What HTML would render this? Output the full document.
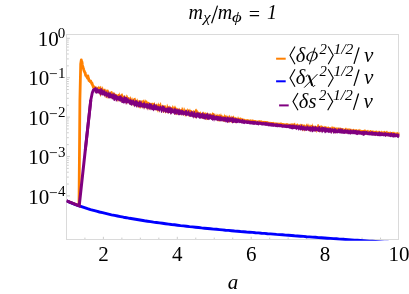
<!DOCTYPE html>
<html><head><meta charset="utf-8"><title>plot</title>
<style>
html,body{margin:0;padding:0;background:#fff;}
body{width:409px;height:294px;overflow:hidden;font-family:"Liberation Serif",serif;}
svg{display:block;will-change:transform;}
text{font-family:"Liberation Serif",serif;fill:#000;}
</style></head><body>
<svg width="409" height="294" viewBox="0 0 409 294">
<rect width="409" height="294" fill="#fff"/>
<defs><clipPath id="cp"><rect x="66.5" y="34.5" width="333.2" height="206.3"/></clipPath></defs>
<g stroke="#c0c0c0" stroke-width="0.8"><line x1="66.5" y1="38.30" x2="69.9" y2="38.30"/><line x1="66.5" y1="77.70" x2="69.9" y2="77.70"/><line x1="66.5" y1="65.84" x2="68.8" y2="65.84"/><line x1="66.5" y1="58.90" x2="68.8" y2="58.90"/><line x1="66.5" y1="53.98" x2="68.8" y2="53.98"/><line x1="66.5" y1="50.16" x2="68.8" y2="50.16"/><line x1="66.5" y1="47.04" x2="68.8" y2="47.04"/><line x1="66.5" y1="44.40" x2="68.8" y2="44.40"/><line x1="66.5" y1="42.12" x2="68.8" y2="42.12"/><line x1="66.5" y1="40.10" x2="68.8" y2="40.10"/><line x1="66.5" y1="117.10" x2="69.9" y2="117.10"/><line x1="66.5" y1="105.24" x2="68.8" y2="105.24"/><line x1="66.5" y1="98.30" x2="68.8" y2="98.30"/><line x1="66.5" y1="93.38" x2="68.8" y2="93.38"/><line x1="66.5" y1="89.56" x2="68.8" y2="89.56"/><line x1="66.5" y1="86.44" x2="68.8" y2="86.44"/><line x1="66.5" y1="83.80" x2="68.8" y2="83.80"/><line x1="66.5" y1="81.52" x2="68.8" y2="81.52"/><line x1="66.5" y1="79.50" x2="68.8" y2="79.50"/><line x1="66.5" y1="156.50" x2="69.9" y2="156.50"/><line x1="66.5" y1="144.64" x2="68.8" y2="144.64"/><line x1="66.5" y1="137.70" x2="68.8" y2="137.70"/><line x1="66.5" y1="132.78" x2="68.8" y2="132.78"/><line x1="66.5" y1="128.96" x2="68.8" y2="128.96"/><line x1="66.5" y1="125.84" x2="68.8" y2="125.84"/><line x1="66.5" y1="123.20" x2="68.8" y2="123.20"/><line x1="66.5" y1="120.92" x2="68.8" y2="120.92"/><line x1="66.5" y1="118.90" x2="68.8" y2="118.90"/><line x1="66.5" y1="195.90" x2="69.9" y2="195.90"/><line x1="66.5" y1="184.04" x2="68.8" y2="184.04"/><line x1="66.5" y1="177.10" x2="68.8" y2="177.10"/><line x1="66.5" y1="172.18" x2="68.8" y2="172.18"/><line x1="66.5" y1="168.36" x2="68.8" y2="168.36"/><line x1="66.5" y1="165.24" x2="68.8" y2="165.24"/><line x1="66.5" y1="162.60" x2="68.8" y2="162.60"/><line x1="66.5" y1="160.32" x2="68.8" y2="160.32"/><line x1="66.5" y1="158.30" x2="68.8" y2="158.30"/><line x1="84.93" y1="239.5" x2="84.93" y2="237.6"/><line x1="103.40" y1="239.5" x2="103.40" y2="236.8"/><line x1="121.88" y1="239.5" x2="121.88" y2="237.6"/><line x1="140.35" y1="239.5" x2="140.35" y2="237.6"/><line x1="158.83" y1="239.5" x2="158.83" y2="237.6"/><line x1="177.30" y1="239.5" x2="177.30" y2="236.8"/><line x1="195.78" y1="239.5" x2="195.78" y2="237.6"/><line x1="214.25" y1="239.5" x2="214.25" y2="237.6"/><line x1="232.73" y1="239.5" x2="232.73" y2="237.6"/><line x1="251.20" y1="239.5" x2="251.20" y2="236.8"/><line x1="269.68" y1="239.5" x2="269.68" y2="237.6"/><line x1="288.15" y1="239.5" x2="288.15" y2="237.6"/><line x1="306.62" y1="239.5" x2="306.62" y2="237.6"/><line x1="325.10" y1="239.5" x2="325.10" y2="236.8"/><line x1="343.58" y1="239.5" x2="343.58" y2="237.6"/><line x1="362.05" y1="239.5" x2="362.05" y2="237.6"/><line x1="380.52" y1="239.5" x2="380.52" y2="237.6"/></g>
<rect x="66.5" y="34.5" width="332.0" height="205.0" fill="none" stroke="#dadada" stroke-width="1"/>
<g clip-path="url(#cp)" fill="none" stroke-linejoin="round" stroke-linecap="butt">
<polyline points="66.5,200.8 79.0,205.6 79.4,160.0 79.9,100.0 80.7,64.0 81.3,59.9 81.7,61.9 82.0,61.9 82.3,64.4 82.6,66.3 83.0,67.0 83.4,68.7 83.7,69.7 84.1,70.9 84.5,71.8 84.9,72.8 85.2,72.8 85.6,75.4 86.0,75.3 86.4,76.1 86.8,76.9 87.1,76.3 87.5,78.3 87.9,75.9 88.2,77.5 88.6,78.6 89.0,80.7 89.4,80.7 89.8,81.1 90.2,81.6 90.6,80.9 90.9,82.0 91.3,82.3 91.7,83.7 92.0,83.1 92.4,84.8 92.8,85.3 93.3,87.0 93.7,86.6 94.2,88.1 94.6,88.7 95.1,89.0 95.6,89.6" stroke="#ff8000" stroke-width="2.8"/>
<polygon points="95.0,87.2 95.5,85.7 96.0,86.4 96.5,86.2 97.0,87.8 97.5,86.4 98.0,87.4 98.5,85.7 99.0,85.9 99.5,86.8 100.0,87.1 100.5,85.9 101.0,85.8 101.5,87.8 102.0,88.2 102.5,86.1 103.0,87.3 103.5,89.0 104.0,89.1 104.5,89.0 105.0,88.0 105.5,89.7 106.0,89.3 106.5,90.6 107.0,88.7 107.5,89.7 108.0,89.9 108.5,89.5 109.0,92.0 109.5,91.6 110.0,92.7 110.5,91.4 111.0,91.1 111.5,91.1 112.0,91.5 112.5,91.2 113.0,93.6 113.5,92.0 114.0,92.8 114.5,92.8 115.0,92.7 115.5,94.2 116.0,93.7 116.5,93.9 117.0,94.6 117.5,94.7 118.0,93.9 118.5,94.1 119.0,93.4 119.5,91.9 120.0,95.4 120.5,94.5 121.0,94.0 121.5,94.1 122.0,92.8 122.5,93.8 123.0,94.8 123.5,96.3 124.0,95.4 124.5,95.8 125.0,95.6 125.5,96.0 126.0,97.4 126.5,94.2 127.0,94.9 127.5,95.4 128.0,97.0 128.5,96.9 129.0,97.4 129.5,97.7 130.0,97.0 130.5,96.1 131.0,97.8 131.5,98.9 132.0,96.7 132.5,98.3 133.0,99.8 133.5,98.6 134.0,97.8 134.5,97.9 135.0,98.1 135.5,97.4 136.0,100.4 136.5,99.9 137.0,98.4 137.5,98.8 138.0,100.9 138.5,99.7 139.0,101.0 139.5,100.1 140.0,100.3 140.5,100.1 141.0,101.7 141.5,100.1 142.0,101.6 142.5,100.0 143.0,100.3 143.5,100.1 144.0,98.9 144.5,100.5 145.0,101.5 145.5,99.3 146.0,99.9 146.5,100.8 147.0,100.6 147.5,101.8 148.0,101.7 148.5,102.1 149.0,101.8 149.5,102.9 150.0,102.2 150.5,103.6 151.0,102.6 151.5,103.5 152.0,102.4 152.5,102.8 153.0,103.0 153.5,103.2 154.0,102.6 154.5,102.0 155.0,103.7 155.5,104.5 156.0,104.3 156.5,103.9 157.0,102.7 157.5,104.9 158.0,103.9 158.5,102.0 159.0,104.4 159.5,104.2 160.0,103.6 160.5,102.3 161.0,102.5 161.5,105.9 162.0,104.5 162.5,105.5 163.0,104.8 163.5,105.3 164.0,105.9 164.5,104.7 165.0,105.7 165.5,104.7 166.0,106.6 166.5,107.0 167.0,103.5 167.5,104.4 168.0,106.1 168.5,106.1 169.0,106.9 169.5,104.9 170.0,107.0 170.5,106.6 171.0,106.8 171.5,107.2 172.0,107.3 172.5,104.9 173.0,105.8 173.5,107.8 174.0,105.2 174.5,107.3 175.0,105.3 175.5,106.6 176.0,107.3 176.5,107.7 177.0,108.6 177.5,108.4 178.0,107.4 178.5,109.3 179.0,109.0 179.5,107.4 180.0,109.2 180.5,109.4 181.0,109.2 181.5,108.8 182.0,106.6 182.5,108.6 183.0,106.9 183.5,109.0 184.0,110.0 184.5,107.0 185.0,108.8 185.5,110.4 186.0,109.6 186.5,109.2 187.0,110.2 187.5,107.8 188.0,109.2 188.5,109.4 189.0,109.6 189.5,109.7 190.0,108.2 190.5,110.0 191.0,110.0 191.5,110.0 192.0,110.9 192.5,111.4 193.0,109.8 193.5,110.3 194.0,110.9 194.5,110.9 195.0,110.2 195.5,108.7 196.0,109.1 196.5,108.6 197.0,110.4 197.5,109.5 198.0,111.9 198.5,111.0 199.0,112.2 199.5,112.2 200.0,112.3 200.5,111.1 201.0,112.5 201.5,113.1 202.0,112.7 202.5,112.4 203.0,112.7 203.5,111.4 204.0,112.0 204.5,113.4 205.0,111.9 205.5,112.5 206.0,112.9 206.5,113.6 207.0,112.1 207.5,112.9 208.0,112.8 208.5,113.7 209.0,113.4 209.5,114.0 210.0,114.2 210.5,113.0 211.0,113.2 211.5,114.3 212.0,113.3 212.5,112.0 213.0,112.8 213.5,113.0 214.0,113.2 214.5,113.6 215.0,114.9 215.5,114.8 216.0,112.9 216.5,114.8 217.0,115.3 217.5,114.3 218.0,113.6 218.5,115.5 219.0,114.2 219.5,113.7 220.0,115.6 220.5,114.2 221.0,113.0 221.5,115.3 222.0,114.4 222.5,115.7 223.0,115.7 223.5,116.3 224.0,115.3 224.5,113.5 225.0,115.7 225.5,115.0 226.0,115.6 226.5,116.1 227.0,114.2 227.5,116.8 228.0,115.9 228.5,117.1 229.0,114.5 229.5,115.6 230.0,115.4 230.5,116.9 231.0,116.8 231.5,115.3 232.0,117.5 232.5,116.1 233.0,116.5 233.5,115.2 234.0,116.3 234.5,117.3 235.0,117.4 235.5,116.9 236.0,116.8 236.5,117.7 237.0,118.0 237.5,117.7 238.0,116.0 238.5,117.3 239.0,118.2 239.5,117.6 240.0,117.9 240.5,117.2 241.0,117.5 241.5,118.4 242.0,117.8 242.5,118.2 243.0,118.7 243.5,118.8 244.0,118.3 244.5,118.9 245.0,119.1 245.5,119.3 246.0,119.5 246.5,119.2 247.0,119.1 247.5,119.0 248.0,119.6 248.5,119.3 249.0,119.6 249.5,119.6 250.0,120.0 250.5,118.9 251.0,119.6 251.5,119.5 252.0,120.0 252.5,119.0 253.0,120.0 253.5,119.6 254.0,120.1 254.5,120.1 255.0,120.2 255.5,120.0 256.0,120.2 256.5,120.4 257.0,120.4 257.5,120.7 258.0,120.2 258.5,120.6 259.0,120.3 259.5,120.3 260.0,120.3 260.5,120.5 261.0,120.4 261.5,120.3 262.0,120.7 262.5,120.9 263.0,120.8 263.5,121.2 264.0,120.8 264.5,120.9 265.0,120.9 265.5,121.0 266.0,121.1 266.5,121.3 267.0,121.1 267.5,121.2 268.0,121.2 268.5,121.8 269.0,121.7 269.5,121.7 270.0,122.0 270.5,121.8 271.0,121.9 271.5,122.1 272.0,122.0 272.5,122.0 273.0,122.1 273.5,121.7 274.0,122.5 274.5,122.4 275.0,122.2 275.5,122.4 276.0,122.5 276.5,122.6 277.0,122.5 277.5,122.7 278.0,122.5 278.5,122.7 279.0,122.7 279.5,122.8 280.0,122.8 280.5,122.6 281.0,122.6 281.5,122.6 282.0,123.0 282.5,123.0 283.0,123.0 283.5,123.2 284.0,122.9 284.5,123.6 285.0,123.4 285.5,123.5 286.0,123.2 286.5,122.9 287.0,123.6 287.5,123.1 288.0,123.6 288.5,123.8 289.0,123.4 289.5,123.9 290.0,123.4 290.5,123.7 291.0,123.5 291.5,123.0 292.0,124.2 292.5,123.3 293.0,123.1 293.5,124.0 294.0,123.1 294.5,123.3 295.0,122.3 295.5,124.5 296.0,124.3 296.5,124.5 297.0,123.2 297.5,123.4 298.0,124.1 298.5,124.6 299.0,124.7 299.5,124.3 300.0,124.7 300.5,123.7 301.0,123.7 301.5,124.0 302.0,124.9 302.5,123.7 303.0,124.6 303.5,125.1 304.0,124.0 304.5,124.5 305.0,125.3 305.5,125.6 306.0,124.6 306.5,124.3 307.0,122.9 307.5,125.5 308.0,122.9 308.5,124.5 309.0,125.4 309.5,125.6 310.0,123.7 310.5,125.8 311.0,124.8 311.5,125.0 312.0,124.7 312.5,123.1 313.0,125.9 313.5,125.2 314.0,125.9 314.5,125.9 315.0,125.0 315.5,126.1 316.0,126.3 316.5,126.3 317.0,125.9 317.5,124.6 318.0,123.9 318.5,124.1 319.0,125.8 319.5,125.7 320.0,125.8 320.5,125.4 321.0,125.8 321.5,125.3 322.0,125.6 322.5,125.9 323.0,126.5 323.5,127.1 324.0,125.5 324.5,126.6 325.0,126.3 325.5,126.4 326.0,126.1 326.5,127.2 327.0,126.2 327.5,127.1 328.0,127.1 328.5,126.2 329.0,126.7 329.5,127.6 330.0,127.3 330.5,127.2 331.0,127.8 331.5,127.0 332.0,125.5 332.5,127.1 333.0,126.5 333.5,126.8 334.0,127.5 334.5,127.0 335.0,126.4 335.5,127.8 336.0,127.9 336.5,126.9 337.0,128.0 337.5,127.7 338.0,126.8 338.5,127.6 339.0,128.5 339.5,127.5 340.0,127.3 340.5,127.4 341.0,128.3 341.5,127.8 342.0,128.3 342.5,128.2 343.0,127.9 343.5,128.2 344.0,128.9 344.5,128.7 345.0,128.2 345.5,127.9 346.0,127.2 346.5,128.5 347.0,128.4 347.5,128.8 348.0,128.0 348.5,129.1 349.0,128.0 349.5,128.7 350.0,128.4 350.5,128.9 351.0,128.2 351.5,129.4 352.0,129.0 352.5,129.2 353.0,129.6 353.5,128.7 354.0,128.7 354.5,129.6 355.0,129.6 355.5,129.3 356.0,129.2 356.5,129.1 357.0,129.6 357.5,129.7 358.0,129.7 358.5,129.1 359.0,130.1 359.5,128.4 360.0,130.1 360.5,129.2 361.0,129.7 361.5,129.9 362.0,129.9 362.5,130.1 363.0,130.1 363.5,130.1 364.0,129.8 364.5,129.6 365.0,129.6 365.5,129.4 366.0,130.4 366.5,130.4 367.0,130.1 367.5,130.3 368.0,129.4 368.5,130.6 369.0,130.6 369.5,130.8 370.0,130.2 370.5,130.1 371.0,130.1 371.5,130.4 372.0,130.9 372.5,130.6 373.0,129.9 373.5,130.9 374.0,130.5 374.5,131.0 375.0,131.0 375.5,131.2 376.0,130.1 376.5,131.1 377.0,130.5 377.5,131.2 378.0,131.6 378.5,131.3 379.0,130.2 379.5,131.2 380.0,130.9 380.5,131.4 381.0,131.6 381.5,130.3 382.0,131.7 382.5,131.6 383.0,130.8 383.5,131.7 384.0,130.9 384.5,130.8 385.0,130.9 385.5,131.8 386.0,131.6 386.5,131.0 387.0,130.4 387.5,131.3 388.0,132.2 388.5,131.7 389.0,131.8 389.5,132.0 390.0,131.5 390.5,131.6 391.0,132.3 391.5,132.5 392.0,132.0 392.5,132.1 393.0,131.5 393.5,132.3 394.0,131.5 394.5,132.3 395.0,132.6 395.5,132.6 396.0,132.4 396.5,132.8 397.0,131.4 397.5,132.5 398.0,132.1 398.5,132.9 399.0,132.5 399.5,132.0 399.5,136.3 399.0,136.2 398.5,136.5 398.0,136.0 397.5,136.9 397.0,136.0 396.5,136.9 396.0,136.5 395.5,136.6 395.0,137.4 394.5,135.8 394.0,136.3 393.5,136.1 393.0,136.2 392.5,136.4 392.0,136.2 391.5,135.9 391.0,136.4 390.5,135.9 390.0,136.1 389.5,135.4 389.0,136.5 388.5,135.7 388.0,135.8 387.5,136.3 387.0,135.8 386.5,136.4 386.0,135.6 385.5,136.0 385.0,135.4 384.5,135.9 384.0,135.2 383.5,135.2 383.0,135.5 382.5,135.4 382.0,135.1 381.5,135.6 381.0,135.9 380.5,135.2 380.0,134.7 379.5,134.7 379.0,134.7 378.5,136.1 378.0,135.1 377.5,136.0 377.0,135.0 376.5,135.2 376.0,134.5 375.5,134.6 375.0,135.8 374.5,135.5 374.0,135.2 373.5,134.6 373.0,134.5 372.5,134.2 372.0,134.8 371.5,134.7 371.0,135.0 370.5,134.7 370.0,134.5 369.5,134.3 369.0,134.6 368.5,134.7 368.0,134.6 367.5,134.1 367.0,135.5 366.5,134.3 366.0,134.9 365.5,133.9 365.0,134.9 364.5,134.3 364.0,134.5 363.5,135.0 363.0,134.0 362.5,134.0 362.0,133.9 361.5,135.0 361.0,133.8 360.5,133.3 360.0,134.0 359.5,134.1 359.0,134.1 358.5,134.2 358.0,133.6 357.5,133.9 357.0,134.2 356.5,133.1 356.0,133.3 355.5,134.1 355.0,133.4 354.5,133.4 354.0,133.6 353.5,134.3 353.0,133.1 352.5,133.8 352.0,133.1 351.5,133.7 351.0,132.8 350.5,133.1 350.0,133.6 349.5,133.9 349.0,132.4 348.5,133.6 348.0,132.5 347.5,133.1 347.0,132.4 346.5,134.1 346.0,133.2 345.5,133.1 345.0,133.0 344.5,132.6 344.0,132.4 343.5,133.8 343.0,132.9 342.5,132.3 342.0,133.3 341.5,132.3 341.0,133.1 340.5,132.2 340.0,133.6 339.5,132.3 339.0,132.2 338.5,133.1 338.0,131.7 337.5,132.6 337.0,132.4 336.5,132.7 336.0,131.4 335.5,134.2 335.0,132.1 334.5,131.6 334.0,132.6 333.5,132.4 333.0,131.4 332.5,132.5 332.0,132.0 331.5,133.4 331.0,131.4 330.5,131.5 330.0,131.7 329.5,131.3 329.0,130.8 328.5,131.3 328.0,131.1 327.5,131.0 327.0,132.0 326.5,131.7 326.0,132.1 325.5,131.7 325.0,130.9 324.5,131.7 324.0,132.2 323.5,130.8 323.0,130.7 322.5,130.7 322.0,130.7 321.5,131.9 321.0,131.0 320.5,132.3 320.0,130.6 319.5,132.4 319.0,132.6 318.5,130.2 318.0,130.7 317.5,131.6 317.0,129.9 316.5,133.0 316.0,132.4 315.5,130.5 315.0,130.6 314.5,131.7 314.0,130.3 313.5,131.2 313.0,130.5 312.5,129.6 312.0,130.5 311.5,129.8 311.0,131.7 310.5,130.7 310.0,130.8 309.5,131.7 309.0,130.5 308.5,131.5 308.0,130.1 307.5,129.8 307.0,130.2 306.5,129.2 306.0,129.3 305.5,129.3 305.0,131.7 304.5,131.3 304.0,129.8 303.5,129.5 303.0,131.4 302.5,131.0 302.0,130.2 301.5,129.7 301.0,129.6 300.5,129.2 300.0,128.5 299.5,128.9 299.0,129.0 298.5,128.9 298.0,129.0 297.5,129.1 297.0,128.7 296.5,128.7 296.0,128.3 295.5,128.7 295.0,128.7 294.5,129.0 294.0,128.8 293.5,129.0 293.0,127.5 292.5,128.2 292.0,129.5 291.5,128.0 291.0,127.7 290.5,127.8 290.0,127.5 289.5,127.8 289.0,128.0 288.5,127.3 288.0,128.1 287.5,127.5 287.0,127.1 286.5,127.1 286.0,126.9 285.5,126.9 285.0,126.7 284.5,126.9 284.0,126.8 283.5,126.6 283.0,126.7 282.5,126.4 282.0,126.7 281.5,126.4 281.0,126.1 280.5,126.3 280.0,126.8 279.5,126.2 279.0,126.1 278.5,126.3 278.0,126.3 277.5,126.2 277.0,126.4 276.5,126.5 276.0,126.3 275.5,126.2 275.0,126.1 274.5,125.8 274.0,125.7 273.5,125.5 273.0,125.5 272.5,125.5 272.0,125.6 271.5,125.5 271.0,125.4 270.5,125.3 270.0,125.3 269.5,125.1 269.0,125.2 268.5,125.8 268.0,125.2 267.5,125.3 267.0,124.6 266.5,124.9 266.0,125.1 265.5,124.5 265.0,124.4 264.5,124.6 264.0,125.0 263.5,124.6 263.0,124.4 262.5,124.7 262.0,124.4 261.5,124.5 261.0,124.4 260.5,123.9 260.0,123.9 259.5,124.4 259.0,124.0 258.5,124.0 258.0,124.3 257.5,124.3 257.0,123.8 256.5,123.7 256.0,124.2 255.5,123.4 255.0,124.1 254.5,124.5 254.0,123.6 253.5,123.2 253.0,123.5 252.5,123.2 252.0,123.4 251.5,123.8 251.0,123.8 250.5,123.2 250.0,124.0 249.5,123.4 249.0,123.3 248.5,122.9 248.0,123.6 247.5,122.6 247.0,123.4 246.5,122.6 246.0,123.0 245.5,123.0 245.0,122.8 244.5,122.9 244.0,122.8 243.5,122.5 243.0,123.1 242.5,122.4 242.0,121.8 241.5,121.9 241.0,123.2 240.5,122.2 240.0,122.9 239.5,122.4 239.0,122.1 238.5,121.6 238.0,122.0 237.5,121.7 237.0,122.4 236.5,121.5 236.0,123.7 235.5,122.9 235.0,121.7 234.5,122.7 234.0,121.9 233.5,122.2 233.0,123.0 232.5,121.5 232.0,122.2 231.5,122.9 231.0,122.2 230.5,121.7 230.0,121.7 229.5,120.9 229.0,122.0 228.5,123.3 228.0,122.1 227.5,120.6 227.0,122.0 226.5,121.1 226.0,120.6 225.5,121.0 225.0,121.6 224.5,122.2 224.0,121.7 223.5,121.6 223.0,121.0 222.5,121.6 222.0,119.6 221.5,120.9 221.0,121.2 220.5,119.9 220.0,120.3 219.5,121.8 219.0,121.7 218.5,120.5 218.0,122.0 217.5,120.8 217.0,120.6 216.5,119.1 216.0,120.2 215.5,119.6 215.0,120.3 214.5,119.8 214.0,118.5 213.5,119.8 213.0,119.3 212.5,119.2 212.0,118.6 211.5,120.2 211.0,118.7 210.5,118.2 210.0,118.1 209.5,118.7 209.0,118.8 208.5,120.6 208.0,118.5 207.5,119.0 207.0,120.3 206.5,120.0 206.0,118.9 205.5,117.5 205.0,120.5 204.5,117.9 204.0,118.4 203.5,118.8 203.0,118.8 202.5,119.0 202.0,118.6 201.5,117.9 201.0,118.1 200.5,116.7 200.0,117.3 199.5,116.4 199.0,117.7 198.5,117.3 198.0,116.2 197.5,117.1 197.0,116.4 196.5,115.8 196.0,117.4 195.5,118.5 195.0,118.3 194.5,117.0 194.0,116.8 193.5,117.5 193.0,116.6 192.5,115.4 192.0,115.2 191.5,117.2 191.0,115.3 190.5,116.9 190.0,115.4 189.5,115.1 189.0,117.4 188.5,116.1 188.0,114.6 187.5,115.3 187.0,114.9 186.5,114.6 186.0,116.4 185.5,115.4 185.0,117.4 184.5,113.7 184.0,115.2 183.5,115.7 183.0,114.4 182.5,115.1 182.0,113.6 181.5,115.1 181.0,116.0 180.5,113.8 180.0,114.1 179.5,113.8 179.0,114.6 178.5,114.4 178.0,113.5 177.5,113.6 177.0,115.6 176.5,114.4 176.0,115.0 175.5,113.1 175.0,115.0 174.5,114.3 174.0,112.8 173.5,113.0 173.0,112.1 172.5,112.1 172.0,111.7 171.5,113.9 171.0,113.5 170.5,113.3 170.0,111.6 169.5,112.6 169.0,113.4 168.5,112.1 168.0,114.3 167.5,112.5 167.0,113.0 166.5,111.5 166.0,112.4 165.5,113.9 165.0,112.6 164.5,110.5 164.0,112.8 163.5,112.9 163.0,112.7 162.5,110.9 162.0,110.2 161.5,111.5 161.0,110.2 160.5,109.8 160.0,110.7 159.5,111.6 159.0,113.1 158.5,109.6 158.0,112.8 157.5,111.8 157.0,109.7 156.5,111.2 156.0,110.0 155.5,108.8 155.0,109.8 154.5,109.8 154.0,110.8 153.5,109.2 153.0,109.2 152.5,108.4 152.0,109.7 151.5,107.7 151.0,110.0 150.5,109.6 150.0,108.1 149.5,107.9 149.0,110.7 148.5,109.1 148.0,108.0 147.5,109.1 147.0,107.7 146.5,109.9 146.0,107.2 145.5,106.5 145.0,109.6 144.5,107.9 144.0,108.0 143.5,106.3 143.0,109.5 142.5,107.2 142.0,107.7 141.5,106.9 141.0,107.7 140.5,108.9 140.0,106.5 139.5,108.5 139.0,107.9 138.5,105.4 138.0,106.1 137.5,108.0 137.0,105.9 136.5,105.4 136.0,105.7 135.5,105.4 135.0,105.7 134.5,104.3 134.0,104.8 133.5,107.0 133.0,103.6 132.5,105.6 132.0,104.3 131.5,104.1 131.0,106.0 130.5,103.1 130.0,104.4 129.5,103.8 129.0,102.3 128.5,102.5 128.0,103.7 127.5,103.1 127.0,102.8 126.5,104.8 126.0,103.4 125.5,101.6 125.0,102.2 124.5,102.5 124.0,101.6 123.5,102.3 123.0,101.7 122.5,100.4 122.0,101.4 121.5,100.6 121.0,101.3 120.5,102.4 120.0,99.8 119.5,100.4 119.0,99.7 118.5,100.6 118.0,102.5 117.5,100.9 117.0,99.4 116.5,98.7 116.0,100.2 115.5,98.7 115.0,98.4 114.5,101.2 114.0,99.4 113.5,98.6 113.0,99.0 112.5,97.3 112.0,99.9 111.5,97.9 111.0,97.6 110.5,97.4 110.0,97.5 109.5,98.5 109.0,96.4 108.5,97.8 108.0,99.3 107.5,97.3 107.0,97.2 106.5,98.6 106.0,97.5 105.5,95.4 105.0,98.3 104.5,94.9 104.0,96.1 103.5,95.0 103.0,94.5 102.5,95.4 102.0,94.2 101.5,94.6 101.0,95.2 100.5,96.9 100.0,96.1 99.5,93.8 99.0,92.6 98.5,93.7 98.0,92.1 97.5,93.3 97.0,92.9 96.5,92.4 96.0,91.6 95.5,93.6 95.0,92.0" fill="#ff8000" stroke="none"/>
<polyline points="66.5,200.7 69.5,202.1 72.5,203.4 75.5,204.6 78.5,205.7 81.5,206.7 84.5,207.7 87.5,208.7 90.5,209.6 93.5,210.4 96.5,211.2 99.5,212.0 102.5,212.7 105.5,213.4 108.5,214.1 111.5,214.8 114.5,215.4 117.5,216.0 120.5,216.6 123.5,217.2 126.5,217.7 129.5,218.3 132.5,218.8 135.5,219.3 138.5,219.8 141.5,220.3 144.5,220.8 147.5,221.2 150.5,221.6 153.5,222.1 156.5,222.5 159.5,222.9 162.5,223.3 165.5,223.7 168.5,224.1 171.5,224.5 174.5,224.8 177.5,225.2 180.5,225.6 183.5,225.9 186.5,226.2 189.5,226.6 192.5,226.9 195.5,227.2 198.5,227.5 201.5,227.9 204.5,228.2 207.5,228.5 210.5,228.8 213.5,229.1 216.5,229.3 219.5,229.6 222.5,229.9 225.5,230.2 228.5,230.4 231.5,230.7 234.5,231.0 237.5,231.2 240.5,231.5 243.5,231.7 246.5,232.0 249.5,232.2 252.5,232.4 255.5,232.7 258.5,232.9 261.5,233.2 264.5,233.4 267.5,233.7 270.5,233.9 273.5,234.1 276.5,234.4 279.5,234.6 282.5,234.8 285.5,235.1 288.5,235.3 291.5,235.5 294.5,235.8 297.5,236.0 300.5,236.2 303.5,236.4 306.5,236.7 309.5,236.9 312.5,237.1 315.5,237.3 318.5,237.6 321.5,237.8 324.5,238.0 327.5,238.2 330.5,238.4 333.5,238.6 336.5,238.8 339.5,239.1 342.5,239.3 345.5,239.5 348.5,239.7 351.5,239.9 354.5,240.1 357.5,240.3 360.5,240.5 363.5,240.7 366.5,240.9 369.5,241.1 372.5,241.3 375.5,241.5 378.5,241.7 381.5,241.9 384.5,242.1 387.5,242.3 390.5,242.5 393.5,242.7 396.5,242.9 399.5,243.1" stroke="#0000ff" stroke-width="2.9"/>
<polyline points="66.5,200.8 79.2,205.8 85.3,150.0 90.8,100.0" stroke="#800080" stroke-width="3.0" stroke-linejoin="miter" stroke-miterlimit="6"/>
<polyline points="85.3,150.0 90.8,100.0 92.3,92.8 93.5,89.8 94.6,89.6" stroke="#800080" stroke-width="2.9"/>
<polygon points="94.0,87.3 94.5,87.7 95.0,87.7 95.5,86.8 96.0,86.9 96.5,88.6 97.0,87.0 97.5,88.0 98.0,89.0 98.5,89.1 99.0,89.6 99.5,89.0 100.0,89.1 100.5,87.6 101.0,90.1 101.5,87.8 102.0,88.5 102.5,89.7 103.0,89.5 103.5,90.4 104.0,90.6 104.5,89.0 105.0,91.4 105.5,91.8 106.0,90.3 106.5,92.3 107.0,91.1 107.5,92.5 108.0,92.9 108.5,92.1 109.0,90.6 109.5,93.2 110.0,92.6 110.5,91.9 111.0,93.6 111.5,93.9 112.0,93.0 112.5,94.6 113.0,92.1 113.5,94.5 114.0,92.0 114.5,94.3 115.0,94.5 115.5,94.3 116.0,94.5 116.5,94.9 117.0,95.3 117.5,95.9 118.0,95.4 118.5,96.4 119.0,95.8 119.5,95.6 120.0,95.9 120.5,95.6 121.0,95.0 121.5,95.9 122.0,97.3 122.5,97.2 123.0,96.9 123.5,98.0 124.0,95.2 124.5,95.4 125.0,97.3 125.5,96.9 126.0,97.0 126.5,97.3 127.0,97.0 127.5,98.7 128.0,97.2 128.5,98.2 129.0,99.8 129.5,99.5 130.0,98.7 130.5,98.4 131.0,100.1 131.5,100.0 132.0,98.9 132.5,100.5 133.0,100.0 133.5,99.1 134.0,100.3 134.5,100.8 135.0,101.4 135.5,99.3 136.0,100.4 136.5,100.0 137.0,100.8 137.5,100.4 138.0,102.1 138.5,102.0 139.0,101.5 139.5,100.6 140.0,100.6 140.5,102.3 141.0,99.7 141.5,101.5 142.0,103.0 142.5,103.2 143.0,103.1 143.5,102.7 144.0,100.9 144.5,102.3 145.0,103.1 145.5,103.6 146.0,103.5 146.5,102.9 147.0,103.6 147.5,103.1 148.0,103.5 148.5,104.4 149.0,102.7 149.5,103.1 150.0,102.7 150.5,103.9 151.0,103.0 151.5,103.8 152.0,104.5 152.5,105.1 153.0,105.6 153.5,104.2 154.0,104.2 154.5,103.1 155.0,104.0 155.5,105.7 156.0,103.9 156.5,104.8 157.0,105.4 157.5,105.8 158.0,106.4 158.5,105.2 159.0,106.5 159.5,106.5 160.0,105.8 160.5,105.2 161.0,105.9 161.5,106.8 162.0,106.6 162.5,104.5 163.0,106.3 163.5,105.4 164.0,106.1 164.5,106.4 165.0,107.1 165.5,107.8 166.0,108.2 166.5,107.7 167.0,108.1 167.5,107.5 168.0,106.0 168.5,108.0 169.0,106.2 169.5,107.9 170.0,106.3 170.5,106.9 171.0,108.5 171.5,107.6 172.0,107.9 172.5,108.7 173.0,107.8 173.5,109.4 174.0,109.2 174.5,107.6 175.0,108.2 175.5,108.0 176.0,109.2 176.5,109.2 177.0,108.7 177.5,108.8 178.0,110.0 178.5,109.1 179.0,108.2 179.5,110.1 180.0,108.9 180.5,110.6 181.0,109.1 181.5,110.6 182.0,109.8 182.5,109.9 183.0,110.2 183.5,111.1 184.0,110.2 184.5,111.0 185.0,111.4 185.5,109.5 186.0,110.1 186.5,110.1 187.0,110.4 187.5,111.8 188.0,111.1 188.5,110.3 189.0,109.8 189.5,111.8 190.0,112.4 190.5,112.2 191.0,110.2 191.5,111.5 192.0,110.9 192.5,111.0 193.0,112.6 193.5,112.6 194.0,110.6 194.5,110.7 195.0,112.5 195.5,113.4 196.0,110.9 196.5,112.7 197.0,113.3 197.5,112.0 198.0,111.8 198.5,112.8 199.0,113.1 199.5,112.4 200.0,112.7 200.5,113.7 201.0,113.2 201.5,113.0 202.0,113.8 202.5,111.5 203.0,113.1 203.5,113.3 204.0,114.6 204.5,112.9 205.0,113.5 205.5,114.6 206.0,113.7 206.5,113.6 207.0,113.8 207.5,112.5 208.0,113.2 208.5,114.3 209.0,115.1 209.5,112.8 210.0,115.0 210.5,113.6 211.0,115.0 211.5,114.6 212.0,115.4 212.5,115.0 213.0,114.3 213.5,115.6 214.0,113.3 214.5,115.4 215.0,115.9 215.5,116.2 216.0,115.5 216.5,115.3 217.0,116.0 217.5,115.7 218.0,116.2 218.5,115.9 219.0,115.9 219.5,115.8 220.0,117.2 220.5,115.2 221.0,116.2 221.5,117.1 222.0,115.7 222.5,117.2 223.0,116.9 223.5,117.2 224.0,116.3 224.5,117.3 225.0,116.7 225.5,116.4 226.0,117.4 226.5,117.4 227.0,117.1 227.5,116.7 228.0,115.9 228.5,117.7 229.0,116.8 229.5,117.3 230.0,118.2 230.5,117.2 231.0,116.6 231.5,117.8 232.0,117.8 232.5,116.8 233.0,117.6 233.5,116.9 234.0,118.5 234.5,118.2 235.0,117.9 235.5,117.9 236.0,118.6 236.5,118.1 237.0,118.7 237.5,118.5 238.0,118.8 238.5,118.3 239.0,119.1 239.5,119.3 240.0,119.0 240.5,119.3 241.0,119.7 241.5,119.7 242.0,119.0 242.5,119.0 243.0,119.1 243.5,120.1 244.0,120.2 244.5,119.6 245.0,120.2 245.5,120.3 246.0,120.3 246.5,120.3 247.0,120.3 247.5,120.5 248.0,120.3 248.5,120.6 249.0,120.2 249.5,120.7 250.0,120.5 250.5,120.7 251.0,120.9 251.5,121.0 252.0,120.8 252.5,120.7 253.0,121.1 253.5,121.1 254.0,120.8 254.5,121.1 255.0,121.3 255.5,120.8 256.0,121.5 256.5,121.5 257.0,121.3 257.5,121.1 258.0,121.3 258.5,121.6 259.0,121.8 259.5,121.6 260.0,121.2 260.5,121.8 261.0,121.7 261.5,122.0 262.0,121.7 262.5,122.2 263.0,122.0 263.5,121.6 264.0,122.4 264.5,122.1 265.0,122.2 265.5,121.8 266.0,122.2 266.5,122.1 267.0,122.3 267.5,122.5 268.0,122.3 268.5,122.5 269.0,122.6 269.5,122.8 270.0,122.4 270.5,122.7 271.0,123.2 271.5,122.6 272.0,122.8 272.5,123.1 273.0,122.9 273.5,122.7 274.0,123.5 274.5,123.2 275.0,123.6 275.5,123.6 276.0,123.2 276.5,123.4 277.0,123.1 277.5,123.6 278.0,123.5 278.5,123.9 279.0,123.8 279.5,124.1 280.0,123.5 280.5,124.0 281.0,124.0 281.5,124.1 282.0,124.0 282.5,124.4 283.0,124.5 283.5,124.4 284.0,124.2 284.5,124.3 285.0,124.4 285.5,124.6 286.0,124.2 286.5,124.6 287.0,124.6 287.5,124.5 288.0,124.8 288.5,124.4 289.0,124.4 289.5,124.3 290.0,124.8 290.5,124.6 291.0,124.4 291.5,124.7 292.0,124.9 292.5,124.2 293.0,125.3 293.5,124.8 294.0,124.3 294.5,124.4 295.0,125.4 295.5,125.1 296.0,125.4 296.5,124.5 297.0,125.0 297.5,125.6 298.0,125.6 298.5,125.6 299.0,124.9 299.5,124.7 300.0,125.9 300.5,126.0 301.0,125.0 301.5,124.0 302.0,125.4 302.5,126.1 303.0,126.2 303.5,125.9 304.0,125.1 304.5,126.5 305.0,126.4 305.5,126.2 306.0,126.7 306.5,126.4 307.0,124.6 307.5,125.9 308.0,126.2 308.5,126.3 309.0,127.0 309.5,126.6 310.0,125.8 310.5,126.4 311.0,126.6 311.5,127.0 312.0,126.5 312.5,125.3 313.0,126.1 313.5,126.3 314.0,127.2 314.5,126.6 315.0,126.4 315.5,125.4 316.0,126.4 316.5,126.9 317.0,126.6 317.5,127.1 318.0,127.8 318.5,125.9 319.0,126.5 319.5,125.8 320.0,126.6 320.5,128.0 321.0,127.2 321.5,126.7 322.0,127.8 322.5,126.5 323.0,127.1 323.5,127.1 324.0,127.2 324.5,127.4 325.0,126.9 325.5,127.7 326.0,126.3 326.5,128.1 327.0,127.9 327.5,128.0 328.0,128.3 328.5,127.8 329.0,128.7 329.5,127.7 330.0,127.4 330.5,127.8 331.0,128.2 331.5,128.8 332.0,128.2 332.5,128.2 333.0,128.3 333.5,129.0 334.0,128.8 334.5,127.7 335.0,128.7 335.5,128.3 336.0,128.3 336.5,129.3 337.0,129.4 337.5,129.4 338.0,128.8 338.5,127.8 339.0,129.3 339.5,128.4 340.0,128.6 340.5,127.9 341.0,129.6 341.5,128.5 342.0,128.2 342.5,128.5 343.0,129.6 343.5,130.1 344.0,129.4 344.5,129.2 345.0,129.4 345.5,128.8 346.0,129.7 346.5,129.9 347.0,129.2 347.5,129.8 348.0,128.9 348.5,130.0 349.0,130.2 349.5,130.2 350.0,129.2 350.5,129.5 351.0,129.7 351.5,129.7 352.0,130.4 352.5,130.1 353.0,129.6 353.5,129.8 354.0,129.8 354.5,130.2 355.0,130.1 355.5,130.1 356.0,130.0 356.5,130.0 357.0,130.7 357.5,129.7 358.0,130.9 358.5,130.3 359.0,129.7 359.5,130.5 360.0,131.0 360.5,130.9 361.0,131.3 361.5,131.3 362.0,130.9 362.5,131.1 363.0,131.3 363.5,130.9 364.0,130.5 364.5,131.2 365.0,130.8 365.5,131.4 366.0,130.5 366.5,131.0 367.0,131.1 367.5,131.4 368.0,131.5 368.5,131.7 369.0,131.4 369.5,131.6 370.0,130.7 370.5,132.0 371.0,131.8 371.5,131.3 372.0,130.9 372.5,131.5 373.0,131.6 373.5,132.0 374.0,132.1 374.5,131.9 375.0,131.9 375.5,131.6 376.0,131.7 376.5,132.1 377.0,132.2 377.5,132.2 378.0,132.5 378.5,132.1 379.0,131.6 379.5,131.5 380.0,132.1 380.5,132.1 381.0,132.6 381.5,131.9 382.0,132.6 382.5,132.2 383.0,132.5 383.5,132.8 384.0,132.5 384.5,132.5 385.0,132.1 385.5,132.3 386.0,132.6 386.5,132.7 387.0,132.8 387.5,132.8 388.0,132.8 388.5,132.6 389.0,133.0 389.5,133.3 390.0,133.1 390.5,132.9 391.0,132.5 391.5,132.1 392.0,133.0 392.5,133.6 393.0,133.1 393.5,133.1 394.0,133.3 394.5,132.9 395.0,133.1 395.5,133.7 396.0,133.7 396.5,133.4 397.0,133.6 397.5,133.6 398.0,133.5 398.5,133.9 399.0,133.8 399.5,133.8 399.5,137.0 399.0,137.2 398.5,138.1 398.0,138.1 397.5,137.9 397.0,137.1 396.5,137.3 396.0,137.0 395.5,137.3 395.0,137.4 394.5,137.6 394.0,136.8 393.5,137.9 393.0,137.2 392.5,137.5 392.0,136.8 391.5,136.7 391.0,137.6 390.5,136.9 390.0,137.0 389.5,136.8 389.0,136.5 388.5,136.4 388.0,136.7 387.5,136.3 387.0,136.3 386.5,136.0 386.0,136.7 385.5,136.9 385.0,136.4 384.5,136.2 384.0,136.1 383.5,136.5 383.0,136.2 382.5,135.9 382.0,136.1 381.5,136.0 381.0,136.4 380.5,136.0 380.0,136.6 379.5,136.2 379.0,135.9 378.5,136.3 378.0,136.0 377.5,136.2 377.0,135.8 376.5,135.4 376.0,136.2 375.5,135.7 375.0,136.0 374.5,135.5 374.0,135.7 373.5,135.8 373.0,135.6 372.5,135.7 372.0,135.7 371.5,135.4 371.0,135.5 370.5,135.6 370.0,135.0 369.5,135.6 369.0,135.6 368.5,135.3 368.0,135.0 367.5,135.2 367.0,135.0 366.5,134.7 366.0,134.7 365.5,134.7 365.0,135.0 364.5,135.7 364.0,135.3 363.5,136.0 363.0,135.9 362.5,135.2 362.0,134.5 361.5,135.2 361.0,134.8 360.5,134.7 360.0,134.6 359.5,134.8 359.0,134.4 358.5,134.4 358.0,134.7 357.5,134.9 357.0,135.3 356.5,134.8 356.0,134.8 355.5,134.3 355.0,134.5 354.5,134.2 354.0,134.1 353.5,134.1 353.0,134.8 352.5,133.9 352.0,133.7 351.5,133.9 351.0,134.5 350.5,134.4 350.0,134.6 349.5,133.8 349.0,134.8 348.5,133.7 348.0,134.4 347.5,133.8 347.0,133.7 346.5,133.6 346.0,133.5 345.5,133.6 345.0,133.9 344.5,134.0 344.0,133.6 343.5,134.1 343.0,133.6 342.5,133.5 342.0,134.3 341.5,133.5 341.0,133.2 340.5,133.2 340.0,133.9 339.5,133.1 339.0,133.2 338.5,132.8 338.0,133.6 337.5,133.5 337.0,132.8 336.5,133.5 336.0,133.2 335.5,133.5 335.0,132.7 334.5,133.8 334.0,132.9 333.5,134.2 333.0,132.7 332.5,132.1 332.0,132.3 331.5,133.7 331.0,134.0 330.5,132.5 330.0,132.7 329.5,132.8 329.0,132.8 328.5,133.2 328.0,132.2 327.5,132.3 327.0,132.7 326.5,132.3 326.0,132.5 325.5,133.1 325.0,133.4 324.5,132.7 324.0,131.5 323.5,131.8 323.0,132.2 322.5,132.6 322.0,133.4 321.5,131.9 321.0,131.3 320.5,132.6 320.0,131.2 319.5,132.5 319.0,131.7 318.5,131.9 318.0,131.7 317.5,131.5 317.0,131.1 316.5,131.0 316.0,131.6 315.5,131.7 315.0,131.3 314.5,131.7 314.0,131.2 313.5,131.5 313.0,131.7 312.5,132.3 312.0,132.6 311.5,131.4 311.0,130.4 310.5,132.2 310.0,131.7 309.5,131.3 309.0,130.5 308.5,131.2 308.0,130.2 307.5,130.6 307.0,130.5 306.5,130.9 306.0,130.9 305.5,130.7 305.0,130.2 304.5,130.7 304.0,130.8 303.5,129.7 303.0,131.4 302.5,130.0 302.0,130.7 301.5,129.7 301.0,130.3 300.5,130.4 300.0,130.6 299.5,129.4 299.0,130.0 298.5,131.1 298.0,129.2 297.5,129.2 297.0,129.5 296.5,130.2 296.0,129.5 295.5,129.2 295.0,129.0 294.5,128.7 294.0,129.3 293.5,129.0 293.0,129.2 292.5,129.4 292.0,129.3 291.5,129.1 291.0,129.2 290.5,128.5 290.0,129.1 289.5,128.5 289.0,128.6 288.5,127.9 288.0,128.2 287.5,128.0 287.0,128.1 286.5,128.2 286.0,127.7 285.5,127.9 285.0,127.9 284.5,127.8 284.0,127.8 283.5,127.6 283.0,128.2 282.5,127.7 282.0,127.6 281.5,127.4 281.0,127.5 280.5,127.3 280.0,127.1 279.5,127.5 279.0,126.9 278.5,127.2 278.0,127.0 277.5,127.4 277.0,127.1 276.5,127.2 276.0,126.8 275.5,127.2 275.0,126.8 274.5,126.6 274.0,126.9 273.5,126.8 273.0,126.7 272.5,126.4 272.0,127.0 271.5,126.4 271.0,126.6 270.5,126.6 270.0,126.3 269.5,126.5 269.0,126.0 268.5,126.4 268.0,126.2 267.5,126.1 267.0,125.6 266.5,126.1 266.0,126.1 265.5,125.9 265.0,125.3 264.5,125.7 264.0,125.6 263.5,125.3 263.0,125.7 262.5,125.4 262.0,125.2 261.5,125.5 261.0,125.3 260.5,125.0 260.0,124.8 259.5,124.8 259.0,125.3 258.5,125.6 258.0,125.3 257.5,125.0 257.0,124.9 256.5,124.7 256.0,125.3 255.5,124.3 255.0,125.1 254.5,124.7 254.0,124.7 253.5,124.8 253.0,125.0 252.5,124.5 252.0,124.4 251.5,124.4 251.0,124.3 250.5,124.4 250.0,124.5 249.5,124.2 249.0,124.3 248.5,123.8 248.0,124.0 247.5,124.0 247.0,123.9 246.5,123.7 246.0,123.8 245.5,123.6 245.0,123.6 244.5,124.2 244.0,124.0 243.5,123.7 243.0,123.7 242.5,123.3 242.0,124.1 241.5,123.2 241.0,123.3 240.5,123.0 240.0,122.8 239.5,123.1 239.0,123.6 238.5,122.6 238.0,122.8 237.5,123.2 237.0,122.8 236.5,123.5 236.0,122.9 235.5,123.1 235.0,122.7 234.5,122.6 234.0,122.9 233.5,122.7 233.0,123.2 232.5,123.6 232.0,122.8 231.5,121.8 231.0,121.7 230.5,122.0 230.0,122.4 229.5,122.7 229.0,121.5 228.5,122.2 228.0,122.3 227.5,123.2 227.0,122.5 226.5,121.7 226.0,123.1 225.5,122.0 225.0,121.6 224.5,121.5 224.0,121.6 223.5,121.4 223.0,121.7 222.5,121.2 222.0,120.5 221.5,121.4 221.0,121.3 220.5,121.5 220.0,120.9 219.5,120.7 219.0,121.2 218.5,120.7 218.0,120.2 217.5,121.1 217.0,121.1 216.5,120.4 216.0,120.0 215.5,120.8 215.0,119.8 214.5,120.5 214.0,121.9 213.5,119.7 213.0,120.6 212.5,121.1 212.0,120.1 211.5,120.1 211.0,119.4 210.5,119.1 210.0,119.5 209.5,119.6 209.0,120.0 208.5,119.7 208.0,119.4 207.5,120.1 207.0,119.4 206.5,118.4 206.0,118.6 205.5,120.1 205.0,119.8 204.5,119.1 204.0,119.5 203.5,118.9 203.0,118.6 202.5,119.1 202.0,117.7 201.5,118.8 201.0,118.3 200.5,119.0 200.0,118.3 199.5,119.2 199.0,118.0 198.5,118.3 198.0,117.1 197.5,117.4 197.0,118.0 196.5,118.8 196.0,118.3 195.5,117.5 195.0,117.8 194.5,117.3 194.0,117.6 193.5,119.0 193.0,116.6 192.5,117.8 192.0,117.0 191.5,116.8 191.0,116.2 190.5,116.9 190.0,117.0 189.5,116.7 189.0,115.9 188.5,115.8 188.0,115.6 187.5,115.9 187.0,115.2 186.5,116.5 186.0,116.1 185.5,115.7 185.0,115.1 184.5,114.8 184.0,115.2 183.5,115.4 183.0,115.6 182.5,115.3 182.0,114.2 181.5,115.4 181.0,115.0 180.5,114.6 180.0,115.2 179.5,115.3 179.0,115.1 178.5,115.5 178.0,114.5 177.5,115.0 177.0,113.3 176.5,114.9 176.0,113.7 175.5,114.4 175.0,115.1 174.5,115.1 174.0,113.3 173.5,114.1 173.0,113.1 172.5,113.4 172.0,112.8 171.5,114.6 171.0,114.1 170.5,115.0 170.0,112.9 169.5,113.1 169.0,113.1 168.5,113.4 168.0,113.7 167.5,112.4 167.0,113.1 166.5,112.5 166.0,112.5 165.5,112.8 165.0,112.7 164.5,111.7 164.0,111.4 163.5,113.2 163.0,111.2 162.5,111.2 162.0,112.7 161.5,113.1 161.0,112.5 160.5,110.5 160.0,110.6 159.5,112.4 159.0,110.9 158.5,110.8 158.0,110.6 157.5,111.1 157.0,110.1 156.5,110.2 156.0,110.2 155.5,110.3 155.0,110.5 154.5,109.7 154.0,110.4 153.5,111.6 153.0,110.6 152.5,110.1 152.0,110.2 151.5,109.2 151.0,110.8 150.5,109.4 150.0,108.6 149.5,110.1 149.0,109.6 148.5,108.8 148.0,108.3 147.5,110.7 147.0,108.1 146.5,108.9 146.0,107.7 145.5,107.7 145.0,108.3 144.5,108.0 144.0,109.9 143.5,107.2 143.0,108.6 142.5,107.8 142.0,107.1 141.5,107.1 141.0,108.4 140.5,107.1 140.0,107.3 139.5,107.3 139.0,107.1 138.5,107.5 138.0,107.7 137.5,106.1 137.0,106.6 136.5,108.1 136.0,106.8 135.5,106.0 135.0,106.5 134.5,107.6 134.0,105.8 133.5,104.8 133.0,106.4 132.5,104.5 132.0,105.0 131.5,106.2 131.0,105.2 130.5,105.0 130.0,104.7 129.5,104.8 129.0,104.3 128.5,103.2 128.0,102.9 127.5,103.1 127.0,104.8 126.5,102.8 126.0,104.9 125.5,103.3 125.0,102.4 124.5,103.8 124.0,103.0 123.5,103.7 123.0,103.2 122.5,103.0 122.0,102.7 121.5,103.2 121.0,100.9 120.5,101.6 120.0,101.9 119.5,101.0 119.0,101.5 118.5,100.5 118.0,100.7 117.5,99.7 117.0,101.9 116.5,100.8 116.0,101.9 115.5,99.6 115.0,100.7 114.5,100.7 114.0,101.2 113.5,100.2 113.0,98.9 112.5,99.8 112.0,98.8 111.5,98.1 111.0,99.6 110.5,97.9 110.0,97.9 109.5,98.7 109.0,97.8 108.5,98.0 108.0,98.8 107.5,96.6 107.0,96.8 106.5,96.7 106.0,98.4 105.5,95.7 105.0,95.8 104.5,96.7 104.0,96.2 103.5,94.9 103.0,95.3 102.5,95.4 102.0,95.2 101.5,94.2 101.0,96.4 100.5,94.8 100.0,95.0 99.5,94.0 99.0,93.4 98.5,93.3 98.0,93.8 97.5,93.0 97.0,93.6 96.5,93.5 96.0,93.9 95.5,92.6 95.0,93.4 94.5,91.4 94.0,91.2" fill="#800080" stroke="none"/>
</g>
<text x="58.65" y="45.9" text-anchor="end" font-size="21">10</text><text x="65.3" y="38.3" text-anchor="end" font-size="15">0</text><text x="49.25" y="85.3" text-anchor="end" font-size="21">10</text><text x="49.0" y="79.3" font-size="15.4">−</text><text x="65.5" y="77.7" text-anchor="end" font-size="15">1</text><text x="49.25" y="124.7" text-anchor="end" font-size="21">10</text><text x="49.0" y="118.7" font-size="15.4">−</text><text x="65.5" y="117.1" text-anchor="end" font-size="15">2</text><text x="49.25" y="164.1" text-anchor="end" font-size="21">10</text><text x="49.0" y="158.1" font-size="15.4">−</text><text x="65.5" y="156.5" text-anchor="end" font-size="15">3</text><text x="49.25" y="203.5" text-anchor="end" font-size="21">10</text><text x="49.0" y="197.5" font-size="15.4">−</text><text x="65.5" y="195.9" text-anchor="end" font-size="15">4</text>
<text x="103.4" y="260.8" text-anchor="middle" font-size="21">2</text><text x="177.3" y="260.8" text-anchor="middle" font-size="21">4</text><text x="251.2" y="260.8" text-anchor="middle" font-size="21">6</text><text x="325.1" y="260.8" text-anchor="middle" font-size="21">8</text><text x="399.0" y="260.8" text-anchor="middle" font-size="21">10</text>
<text x="188.6" y="18.9" font-size="20" font-style="italic">m</text>
<text transform="translate(203.2,22.4) scale(1.12,1)" font-size="15" font-style="italic">χ</text>
<line x1="211.6" y1="23.2" x2="217.5" y2="5.6" stroke="#000" stroke-width="1.2"/>
<text x="217.8" y="18.9" font-size="20" font-style="italic">m</text>
<text transform="translate(232.0,22.4) scale(1.25,1)" font-size="15" font-style="italic">ϕ</text>
<text x="247.6" y="21.0" font-size="20" font-style="italic">=</text>
<text x="267.1" y="18.9" font-size="20" font-style="italic">1</text>
<text x="233" y="288.8" font-size="21" font-style="italic" text-anchor="middle">a</text>
<line x1="276.1" y1="58.7" x2="285.7" y2="58.7" stroke="#ff8000" stroke-width="2"/><polyline points="295.0,46.4 290.0,55.3 295.0,64.2" fill="none" stroke="#000" stroke-width="1.1"/><text x="295.8" y="61.9" font-size="20.5" font-style="italic">δ</text><g transform="translate(0,0.2)"><g transform="translate(312.0,56.3) skewX(-16)"><ellipse rx="5.6" ry="4.9" fill="#000"/><ellipse rx="4.0" ry="4.15" fill="#fff"/></g><line x1="315.1" y1="47.4" x2="309.4" y2="64.2" stroke="#000" stroke-width="1.05"/></g><text x="319.5" y="54.3" font-size="14.7" font-style="italic">2</text><polyline points="328.2,46.4 333.2,55.3 328.2,64.2" fill="none" stroke="#000" stroke-width="1.1"/><text x="333.4" y="54.1" font-size="15.6" font-style="italic">1/2</text><line x1="354.0" y1="63.9" x2="359.1" y2="47.4" stroke="#000" stroke-width="1.25"/><text x="364" y="61.9" font-size="21" font-style="italic">v</text><line x1="276.1" y1="81.3" x2="285.7" y2="81.3" stroke="#0000ff" stroke-width="2"/><polyline points="295.0,69.3 290.0,78.0 295.0,86.7" fill="none" stroke="#000" stroke-width="1.1"/><text x="295.8" y="83.7" font-size="20.5" font-style="italic">δ</text><g transform="translate(0,0.0)" fill="none" stroke="#000" stroke-linecap="round"><line x1="304.5" y1="87.3" x2="317.2" y2="74.4" stroke-width="0.95"/><path d="M306.2,76.6 C306.5,74.9 308.3,74.2 309.0,75.9" stroke-width="1.0"/><path d="M308.9,75.6 L312.3,85.6" stroke-width="1.9" stroke-linecap="butt"/><path d="M312.2,85.3 C312.6,86.9 313.9,87.0 314.8,85.5" stroke-width="1.0"/></g><text x="319.5" y="76.1" font-size="14.7" font-style="italic">2</text><polyline points="328.2,69.3 333.2,78.0 328.2,86.7" fill="none" stroke="#000" stroke-width="1.1"/><text x="333.4" y="75.9" font-size="15.6" font-style="italic">1/2</text><line x1="354.0" y1="85.9" x2="359.1" y2="69.5" stroke="#000" stroke-width="1.25"/><text x="364" y="83.7" font-size="21" font-style="italic">v</text><line x1="279.1" y1="105.4" x2="288.7" y2="105.4" stroke="#800080" stroke-width="2"/><polyline points="298.0,93.0 293.0,101.6 298.0,110.2" fill="none" stroke="#000" stroke-width="1.1"/><text x="298.8" y="107.9" font-size="20.5" font-style="italic">δ</text><text x="308.5" y="107.9" font-size="20.5" font-style="italic">s</text><text x="319.0" y="100.3" font-size="14.7" font-style="italic">2</text><polyline points="327.7,93.0 332.7,101.6 327.7,110.2" fill="none" stroke="#000" stroke-width="1.1"/><text x="332.9" y="100.1" font-size="15.6" font-style="italic">1/2</text><line x1="353.5" y1="109.9" x2="358.6" y2="93.5" stroke="#000" stroke-width="1.25"/><text x="363.5" y="107.9" font-size="21" font-style="italic">v</text>
</svg>
</body></html>
